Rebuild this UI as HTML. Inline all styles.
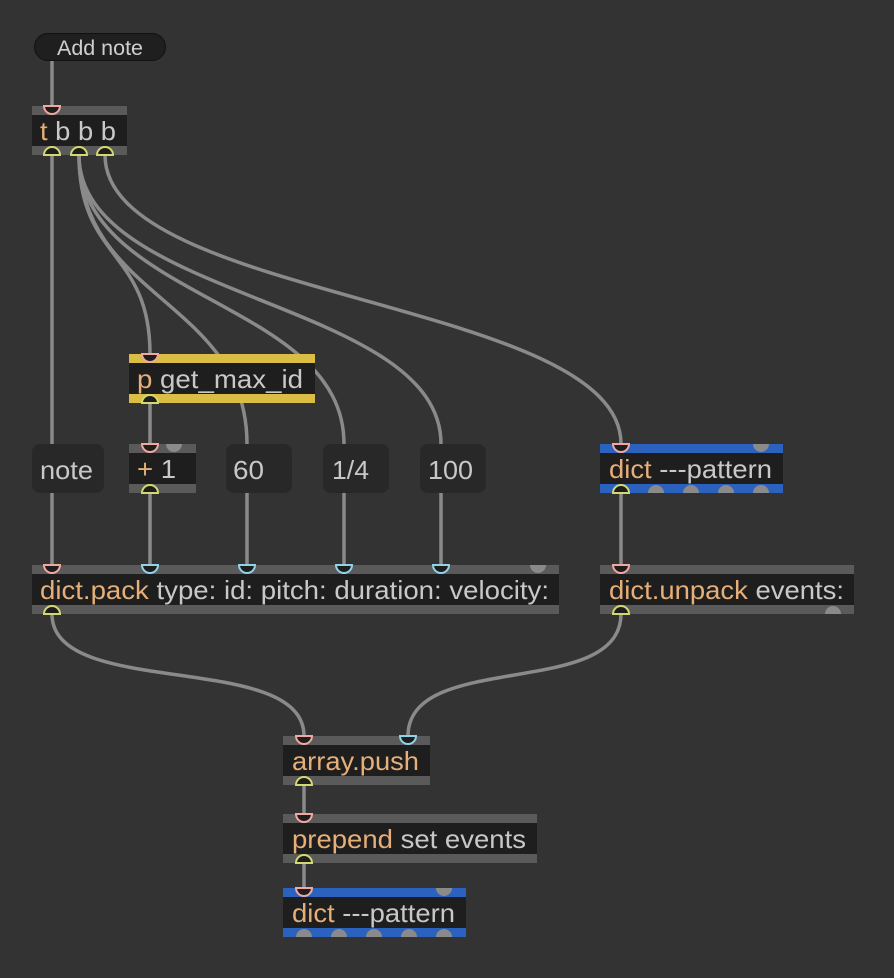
<!DOCTYPE html>
<html><head><meta charset="utf-8"><style>
html,body{margin:0;padding:0;background:#333333;}
svg{display:block}
text{font-family:"Liberation Sans",sans-serif;font-size:26px;}
</style></head><body>
<svg width="894" height="978" viewBox="0 0 894 978" xmlns="http://www.w3.org/2000/svg">
<rect width="894" height="978" fill="#333333"/>
<g fill="none" stroke="#8a8a8a" stroke-width="3.5" stroke-linecap="round">
<path d="M52 61 L52 106"/>
<path d="M52 155 L52 565"/>
<path d="M79 155 C79 260 150 250 150 354"/>
<path d="M79 155 C79 300 247 300 247 444"/>
<path d="M79 155 C79 300 344 300 344 444"/>
<path d="M79 155 C79 300 441 300 441 444"/>
<path d="M105 155 C105 300 621 300 621 444"/>
<path d="M150 403 L150 444"/>
<path d="M150 493 L150 565"/>
<path d="M247 493 L247 565"/>
<path d="M344 493 L344 565"/>
<path d="M441 493 L441 565"/>
<path d="M621 493 L621 565"/>
<path d="M52 614 C52 700 304 650 304 736"/>
<path d="M621 614 C621 700 408 650 408 736"/>
<path d="M304 785 L304 814"/>
<path d="M304 863 L304 888"/>
</g>
<rect x="34.5" y="33.5" width="131" height="27" rx="13.5" fill="#1f1f1f" stroke="#111" stroke-width="1"/>
<text x="57" y="55" fill="#cfcfcf" style="font-size:21px" textLength="86" lengthAdjust="spacingAndGlyphs">Add note</text>

<rect x="32" y="106" width="95" height="49" fill="#5a5a5a"/>
<rect x="32" y="115" width="95" height="31" fill="#1e1e1e"/>
<text x="40" y="140" fill="#c8c8c8" textLength="76" lengthAdjust="spacingAndGlyphs"><tspan fill="#e6ae78">t</tspan> b b b</text>

<rect x="129" y="354" width="186" height="49" fill="#d9bd45"/>
<rect x="129" y="363" width="186" height="31" fill="#1e1e1e"/>
<text x="137" y="388" fill="#c8c8c8" textLength="166" lengthAdjust="spacingAndGlyphs"><tspan fill="#e6ae78">p</tspan> get_max_id</text>

<rect x="32" y="444" width="72" height="49" rx="8" fill="#282828"/>
<text x="40" y="479" fill="#c8c8c8" textLength="53" lengthAdjust="spacingAndGlyphs">note</text>
<rect x="226" y="444" width="66" height="49" rx="8" fill="#282828"/>
<text x="233" y="479" fill="#c8c8c8" textLength="31" lengthAdjust="spacingAndGlyphs">60</text>
<rect x="323" y="444" width="66" height="49" rx="8" fill="#282828"/>
<text x="332" y="479" fill="#c8c8c8" textLength="37" lengthAdjust="spacingAndGlyphs">1/4</text>
<rect x="420" y="444" width="66" height="49" rx="8" fill="#282828"/>
<text x="428" y="479" fill="#c8c8c8" textLength="45" lengthAdjust="spacingAndGlyphs">100</text>

<rect x="129" y="444" width="67" height="49" fill="#5a5a5a"/>
<rect x="129" y="453" width="67" height="31" fill="#1e1e1e"/>
<text x="137" y="478" fill="#c8c8c8" textLength="39" lengthAdjust="spacingAndGlyphs"><tspan fill="#e6ae78">+</tspan> 1</text>

<rect x="600" y="444" width="183" height="49" fill="#2b62bf"/>
<rect x="600" y="453" width="183" height="31" fill="#1e1e1e"/>
<text x="609" y="478" fill="#c8c8c8" textLength="163" lengthAdjust="spacingAndGlyphs"><tspan fill="#e6ae78">dict</tspan> ---pattern</text>

<rect x="32" y="565" width="527" height="49" fill="#5a5a5a"/>
<rect x="32" y="574" width="527" height="31" fill="#1e1e1e"/>
<text x="40" y="599" fill="#c8c8c8" textLength="509" lengthAdjust="spacingAndGlyphs"><tspan fill="#e6ae78">dict.pack</tspan> type: id: pitch: duration: velocity:</text>

<rect x="600" y="565" width="254" height="49" fill="#5a5a5a"/>
<rect x="600" y="574" width="254" height="31" fill="#1e1e1e"/>
<text x="609" y="599" fill="#c8c8c8" textLength="235" lengthAdjust="spacingAndGlyphs"><tspan fill="#e6ae78">dict.unpack</tspan> events:</text>

<rect x="283" y="736" width="147" height="49" fill="#5a5a5a"/>
<rect x="283" y="745" width="147" height="31" fill="#1e1e1e"/>
<text x="292" y="770" fill="#e6ae78" textLength="127" lengthAdjust="spacingAndGlyphs">array.push</text>

<rect x="283" y="814" width="254" height="49" fill="#5a5a5a"/>
<rect x="283" y="823" width="254" height="31" fill="#1e1e1e"/>
<text x="292" y="848" fill="#c8c8c8" textLength="234" lengthAdjust="spacingAndGlyphs"><tspan fill="#e6ae78">prepend</tspan> set events</text>

<rect x="283" y="888" width="183" height="49" fill="#2b62bf"/>
<rect x="283" y="897" width="183" height="31" fill="#1e1e1e"/>
<text x="292" y="922" fill="#c8c8c8" textLength="163" lengthAdjust="spacingAndGlyphs"><tspan fill="#e6ae78">dict</tspan> ---pattern</text>

<g fill="#1e1e1e" stroke="#f0a8a0" stroke-width="2">
<path d="M44 106 A8 8 0 0 0 60 106Z"/>
<path d="M142 354 A8 8 0 0 0 158 354Z"/>
<path d="M142 444 A8 8 0 0 0 158 444Z"/>
<path d="M613 444 A8 8 0 0 0 629 444Z"/>
<path d="M44 565 A8 8 0 0 0 60 565Z"/>
<path d="M613 565 A8 8 0 0 0 629 565Z"/>
<path d="M296 736 A8 8 0 0 0 312 736Z"/>
<path d="M296 814 A8 8 0 0 0 312 814Z"/>
<path d="M296 888 A8 8 0 0 0 312 888Z"/>
</g>
<g fill="#1e1e1e" stroke="#8fd3e6" stroke-width="2">
<path d="M142 565 A8 8 0 0 0 158 565Z"/>
<path d="M239 565 A8 8 0 0 0 255 565Z"/>
<path d="M336 565 A8 8 0 0 0 352 565Z"/>
<path d="M433 565 A8 8 0 0 0 449 565Z"/>
<path d="M400 736 A8 8 0 0 0 416 736Z"/>
</g>
<g fill="#8a8a8a">
<path d="M166 444 A8 8 0 0 0 182 444Z"/>
<path d="M753 444 A8 8 0 0 0 769 444Z"/>
<path d="M530 565 A8 8 0 0 0 546 565Z"/>
<path d="M436 888 A8 8 0 0 0 452 888Z"/>
</g>
<g fill="#1e1e1e" stroke="#d4d870" stroke-width="2">
<path d="M44 155 A8 8 0 0 1 60 155Z"/>
<path d="M71 155 A8 8 0 0 1 87 155Z"/>
<path d="M97 155 A8 8 0 0 1 113 155Z"/>
<path d="M142 403 A8 8 0 0 1 158 403Z"/>
<path d="M142 493 A8 8 0 0 1 158 493Z"/>
<path d="M613 493 A8 8 0 0 1 629 493Z"/>
<path d="M44 614 A8 8 0 0 1 60 614Z"/>
<path d="M613 614 A8 8 0 0 1 629 614Z"/>
<path d="M296 785 A8 8 0 0 1 312 785Z"/>
<path d="M296 863 A8 8 0 0 1 312 863Z"/>
</g>
<g fill="#8a8a8a">
<path d="M648 493 A8 8 0 0 1 664 493Z"/>
<path d="M683 493 A8 8 0 0 1 699 493Z"/>
<path d="M718 493 A8 8 0 0 1 734 493Z"/>
<path d="M753 493 A8 8 0 0 1 769 493Z"/>
<path d="M825 614 A8 8 0 0 1 841 614Z"/>
<path d="M296 937 A8 8 0 0 1 312 937Z"/>
<path d="M331 937 A8 8 0 0 1 347 937Z"/>
<path d="M366 937 A8 8 0 0 1 382 937Z"/>
<path d="M401 937 A8 8 0 0 1 417 937Z"/>
<path d="M436 937 A8 8 0 0 1 452 937Z"/>
</g>
</svg>
</body></html>
